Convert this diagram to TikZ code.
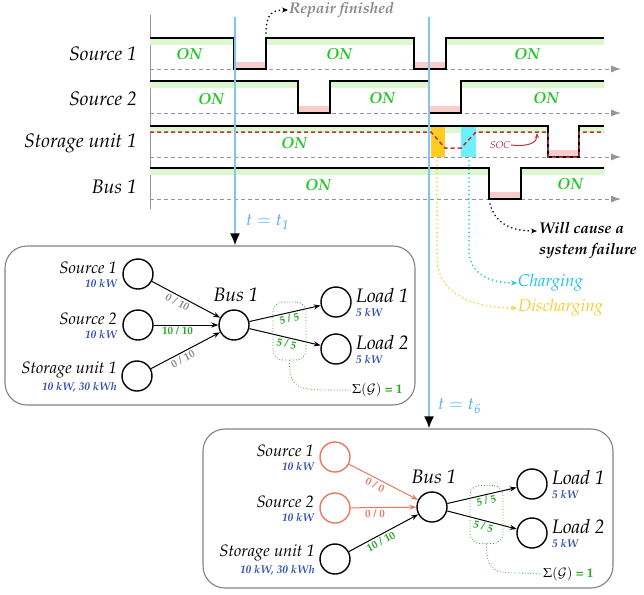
\documentclass[tikz,border=0pt]{standalone}
\usepackage[T1]{fontenc}
\usepackage{mathpazo}
\usetikzlibrary{arrows.meta,calc}
\definecolor{ongreen}{RGB}{34,200,34}
\definecolor{gbandc}{RGB}{221,248,208}
\definecolor{pbandc}{RGB}{246,204,204}
\definecolor{axisgray}{RGB}{150,150,150}
\definecolor{vblue}{RGB}{130,195,240}
\definecolor{tblue}{RGB}{80,175,240}
\definecolor{socred}{RGB}{185,50,60}
\definecolor{disc}{RGB}{255,204,34}
\definecolor{chg}{RGB}{110,240,250}
\definecolor{chgtext}{RGB}{30,190,240}
\definecolor{disctext}{RGB}{245,205,50}
\definecolor{kwblue}{RGB}{50,80,180}
\definecolor{elgray}{RGB}{140,140,140}
\definecolor{elgreen}{RGB}{40,165,40}
\definecolor{offred}{RGB}{232,120,95}
\definecolor{boxgray}{RGB}{130,130,130}
\definecolor{repgray}{RGB}{135,135,135}
\begin{document}
\begin{tikzpicture}[x=1pt,y=-1pt,
  sig/.style={line width=1.8pt},
  baseln/.style={draw=axisgray, line width=0.9pt, dash pattern=on 3.5pt off 3.5pt, -{Latex[length=10pt,width=7pt]}},
  rowlbl/.style={font=\fontsize{19.5}{20}\selectfont\itshape, anchor=east, inner sep=0pt},
  onlbl/.style={font=\fontsize{16}{16}\selectfont\bfseries\itshape, text=ongreen, inner sep=0pt},
  bluev/.style={draw=vblue, line width=2pt, -{Latex[length=12pt,width=10pt,color=black]}},
  tlbl/.style={font=\fontsize{17}{17}\selectfont, text=tblue, anchor=west, inner sep=0pt},
  annot/.style={font=\fontsize{15.5}{21}\selectfont\bfseries\itshape, inner sep=1pt, anchor=west},
  dotarr/.style={line width=1.8pt, line cap=round, dash pattern=on 0pt off 4.2pt, -{Stealth[length=6pt,width=5pt]}},
  netbox/.style={draw=boxgray, line width=1.1pt, rounded corners=22pt, rectangle, inner sep=0pt},
  bnode/.style={circle, draw, line width=1.4pt, minimum size=30pt, inner sep=0pt},
  onode/.style={bnode, draw=offred},
  nmlbl/.style={font=\fontsize{16.5}{17}\selectfont\itshape, inner sep=0pt},
  bglbl/.style={font=\fontsize{19.5}{20}\selectfont\itshape, inner sep=0pt},
  kwlbl/.style={font=\fontsize{11.3}{12}\selectfont\bfseries\itshape, text=kwblue, inner sep=0pt},
  edge/.style={line width=1pt, -{Stealth[length=7pt,width=5pt]}},
  oedge/.style={edge, draw=offred},
  elbl/.style={font=\fontsize{11}{11}\selectfont\bfseries, inner sep=1.5pt, below},
  gdot/.style={draw=elgreen, line width=0.8pt, dotted},
  gbox/.style={draw=elgreen, line width=0.8pt, dotted, rounded corners=10pt, minimum width=33pt, minimum height=58pt, inner sep=0pt},
  sgl/.style={font=\fontsize{13}{13}\selectfont, inner sep=1pt, anchor=west},
  cdtext/.style={font=\fontsize{17}{17}\selectfont\itshape, anchor=west, inner sep=1pt},
]
\useasboundingbox (0,0) rectangle (644,594);

% ---------- timeline ----------
\draw[axisgray, line width=1pt] (150,15) -- (150,209);
\foreach \y in {69,113,157,199} \draw[baseln] (150,\y) -- (621,\y);

% Source 1
\fill[gbandc] (150,38) rectangle (234,45) (266,38) rectangle (414,45) (446,38) rectangle (604,45);
\fill[pbandc] (234,62) rectangle (266,69) (414,62) rectangle (446,69);
\draw[sig] (150,38) -- (234,38) -- (234,69) -- (266,69) -- (266,38) -- (414,38) -- (414,69) -- (446,69) -- (446,38) -- (604,38);
% Source 2
\fill[gbandc] (150,81) rectangle (298,88) (330,81) rectangle (429,88) (461,81) rectangle (604,88);
\fill[pbandc] (298,106) rectangle (330,113) (429,106) rectangle (461,113);
\draw[sig] (150,81) -- (298,81) -- (298,113) -- (330,113) -- (330,81) -- (429,81) -- (429,113) -- (461,113) -- (461,81) -- (604,81);
% Storage
\fill[gbandc] (150,126) rectangle (548,133) (579,126) rectangle (604,133);
\fill[pbandc] (548,150) rectangle (579,157);
\fill[disc] (431,127) rectangle (445,157);
\fill[chg] (461,127) rectangle (476,157);
\draw[sig] (150,126) -- (548,126) -- (548,157) -- (579,157) -- (579,126) -- (604,126);
\draw[socred, line width=1.5pt, dash pattern=on 4pt off 3pt] (150,132) -- (431,132) -- (445,148) -- (461,148) -- (476,132) -- (548,132) -- (548,157) -- (579,157) -- (579,132) -- (604,132);
% Bus
\fill[gbandc] (150,168) rectangle (489,175) (521,168) rectangle (604,175);
\fill[pbandc] (489,192) rectangle (521,199);
\draw[sig] (150,168) -- (489,168) -- (489,199) -- (521,199) -- (521,168) -- (604,168);

% row labels
\node[rowlbl] (r1) at (137,54) {Source 1};
\node[rowlbl] (r2) at (137,99) {Source 2};
\node[rowlbl] (r3) at (137,143) {Storage unit 1};
\node[rowlbl] (r4) at (137,187) {Bus 1};

% ON labels
\node[onlbl] (on1) at (189,54) {ON};
\node[onlbl] (on2) at (339,54) {ON};
\node[onlbl] (on3) at (527,54) {ON};
\node[onlbl] (on4) at (211,99) {ON};
\node[onlbl] (on5) at (382,98) {ON};
\node[onlbl] (on6) at (546,98) {ON};
\node[onlbl] (on7) at (294,143) {ON};
\node[onlbl] (on8) at (318,185) {ON};
\node[onlbl] (on9) at (570,184) {ON};

% SOC
\node[font=\fontsize{10}{10}\selectfont\itshape, text=socred, inner sep=1pt] (soc) at (500,145) {SOC};
\draw[socred, line width=1pt, -{Stealth[length=5pt,width=4pt]}] (soc.east) .. controls (530,147) and (537,142) .. (537,133);

% ---------- boxes ----------
\node[netbox, minimum width=410pt, minimum height=159pt] (box1) at (210,325.5) {};
\node[netbox, minimum width=410pt, minimum height=159pt] (box2) at (408,508.5) {};

% blue time lines
\coordinate (t1) at (235,17);
\coordinate (t6) at (429,17);
\draw[bluev] (t1) -- (t1 |- box1.north);
\draw[bluev] (t6) -- (t6 |- box2.north);
\node[tlbl] (t1l) at (246,222) {$t = t_{\mathit{1}}$};
\node[tlbl] (t6l) at (438,406) {$t = t_{\mathit{6}}$};

% annotations
\node[annot, text=repgray] (rep) at (288,10) {Repair finished};
\draw[dotarr] (266,33) .. controls (266,14) and (272,10) .. (rep.west);
\node[annot, align=left] (fail) at (538,241) {Will cause a\\system failure};
\draw[dotarr] (490,204) .. controls (496,226) and (515,231) .. ($(fail.west)+(-1,-10)$);
\node[cdtext, text=chgtext] (chgl) at (517,283) {Charging};
\draw[dotarr, draw=chgtext] (469,161) -- (469,250) .. controls (469,272) and (487,283) .. (chgl.west);
\node[cdtext, text=disctext] (disl) at (517,308) {Discharging};
\draw[dotarr, draw=disctext] (437,161) -- (437,258) .. controls (437,292) and (470,308) .. (disl.west);

% ---------- network at t1 ----------
\node[bnode] (a1) at (138,274) {};
\node[bnode] (a2) at (138,325) {};
\node[bnode] (a3) at (137,376) {};
\node[bnode] (ab) at (234,325) {};
\node[bnode] (al1) at (336,302) {};
\node[bnode] (al2) at (336,349) {};
\node[nmlbl, anchor=base east] (a1n) at ($(a1)+(-21,-1)$) {Source 1};
\node[kwlbl, anchor=base east] (a1k) at ($(a1)+(-21,13)$) {10 kW};
\node[nmlbl, anchor=base east] (a2n) at ($(a2)+(-21,-1)$) {Source 2};
\node[kwlbl, anchor=base east] (a2k) at ($(a2)+(-21,13)$) {10 kW};
\node[nmlbl, anchor=base east] (a3n) at ($(a3)+(-20,-3)$) {Storage unit 1};
\node[kwlbl, anchor=base east] (a3k) at ($(a3)+(-20,14)$) {10 kW, 30 kWh};
\node[bglbl, anchor=base] (abn) at ($(ab)+(2,-24)$) {Bus 1};
\node[bglbl, anchor=base west] (al1n) at ($(al1)+(20,0)$) {Load 1};
\node[kwlbl, anchor=base west] (al1k) at ($(al1)+(20,14)$) {5 kW};
\node[bglbl, anchor=base west] (al2n) at ($(al2)+(20,0)$) {Load 2};
\node[kwlbl, anchor=base west] (al2k) at ($(al2)+(20,14)$) {5 kW};
\draw[edge] (a1) -- node[elbl, text=elgray, pos=0.42, rotate=-28] {0 / 10} (ab);
\draw[edge] (a2) -- node[elbl, text=elgreen, pos=0.37] {10 / 10} (ab);
\draw[edge] (a3) -- node[elbl, text=elgray, pos=0.42, rotate=27.7] {0 / 10} (ab);
\draw[edge] (ab) -- node[elbl, text=elgreen, pos=0.54, rotate=12.7] (a51) {5 / 5} (al1);
\draw[edge] (ab) -- node[elbl, text=elgreen, pos=0.54, rotate=-13.2] (a52) {5 / 5} (al2);
\node[gbox] (ag) at (289.5,331) {};
\node[sgl] (as) at (351,390) {$\Sigma(\mathcal{G})$ \textcolor{elgreen}{\textbf{= 1}}};
\draw[gdot] (ag.south) .. controls (289,389) and (300,390) .. (330,390) -- (as.west);

% ---------- network at t6 ----------
\node[onode] (b1) at (335,457) {};
\node[onode] (b2) at (335,508) {};
\node[bnode] (b3) at (335,559) {};
\node[bnode] (bb) at (432,507) {};
\node[bnode] (bl1) at (532,484) {};
\node[bnode] (bl2) at (532,533) {};
\node[nmlbl, anchor=base east] (b1n) at ($(b1)+(-21,-1)$) {Source 1};
\node[kwlbl, anchor=base east] (b1k) at ($(b1)+(-21,13)$) {10 kW};
\node[nmlbl, anchor=base east] (b2n) at ($(b2)+(-21,-1)$) {Source 2};
\node[kwlbl, anchor=base east] (b2k) at ($(b2)+(-21,13)$) {10 kW};
\node[nmlbl, anchor=base east] (b3n) at ($(b3)+(-20,-3)$) {Storage unit 1};
\node[kwlbl, anchor=base east] (b3k) at ($(b3)+(-20,14)$) {10 kW, 30 kWh};
\node[bglbl, anchor=base] (bbn) at ($(bb)+(2,-24)$) {Bus 1};
\node[bglbl, anchor=base west] (bl1n) at ($(bl1)+(20,0)$) {Load 1};
\node[kwlbl, anchor=base west] (bl1k) at ($(bl1)+(20,14)$) {5 kW};
\node[bglbl, anchor=base west] (bl2n) at ($(bl2)+(20,0)$) {Load 2};
\node[kwlbl, anchor=base west] (bl2k) at ($(bl2)+(20,14)$) {5 kW};
\draw[oedge] (b1) -- node[elbl, text=offred, pos=0.42, rotate=-27.3] {0 / 0} (bb);
\draw[oedge] (b2) -- node[elbl, text=offred, pos=0.37] {0 / 0} (bb);
\draw[edge] (b3) -- node[elbl, text=elgreen, pos=0.42, rotate=28.2] {10 / 10} (bb);
\draw[edge] (bb) -- node[elbl, text=elgreen, pos=0.54, rotate=13] (b51) {5 / 5} (bl1);
\draw[edge] (bb) -- node[elbl, text=elgreen, pos=0.54, rotate=-14.6] (b52) {5 / 5} (bl2);
\node[gbox] (bg) at (486.5,514.5) {};
\node[sgl] (bs) at (542,574) {$\Sigma(\mathcal{G})$ \textcolor{elgreen}{\textbf{= 1}}};
\draw[gdot] (bg.south) .. controls (486,573) and (497,573) .. (520,573) -- (bs.west);
\end{tikzpicture}
\end{document}
